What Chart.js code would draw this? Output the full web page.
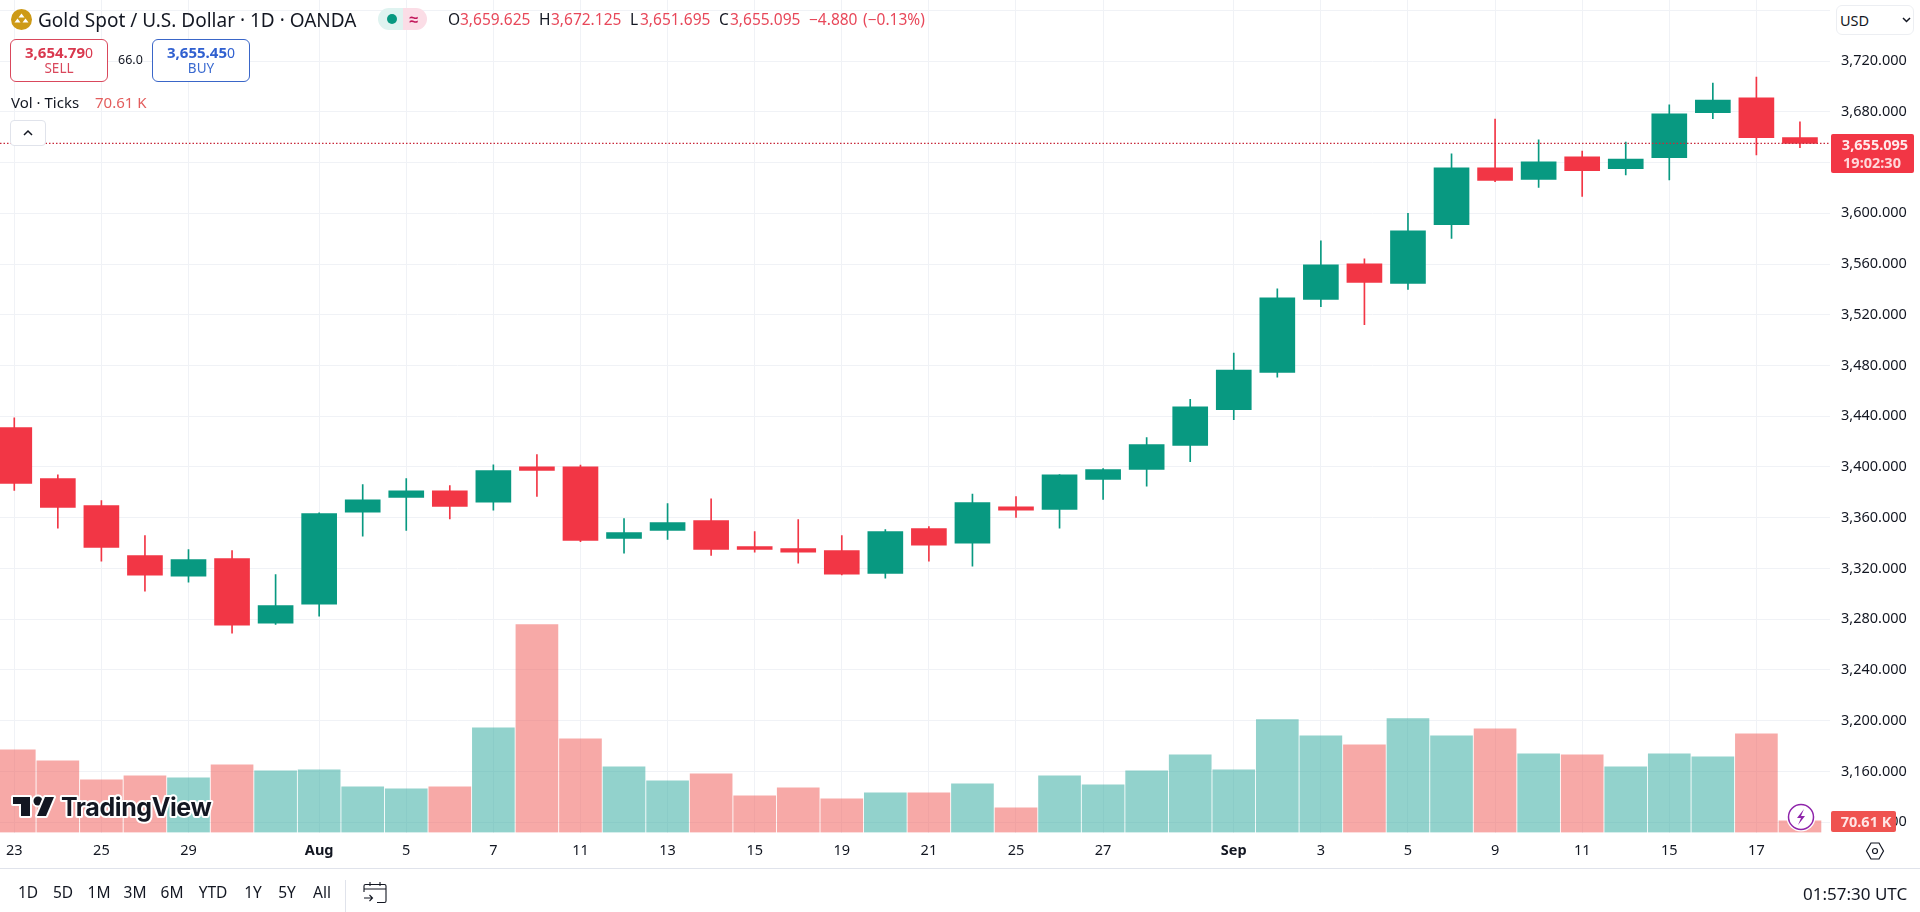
<!DOCTYPE html>
<html>
<head>
<meta charset="utf-8">
<script src="https://cdn.jsdelivr.net/npm/chart.js@4"></script>
<style>
html,body{margin:0;padding:0;background:#fff;width:1920px;height:912px;overflow:hidden;font-family:"Noto Sans",sans-serif;color:#131722}
#wrap{position:relative;width:1920px;height:912px}
canvas{position:absolute;left:0;top:0}
.t{position:absolute;white-space:nowrap;transform:translateY(-50%);line-height:1}
.box{position:absolute;box-sizing:border-box;background:#fff}
.r{color:#e8485a}
.c{position:absolute;white-space:nowrap;transform:translate(-50%,-50%);line-height:1}
svg{position:absolute;overflow:visible}
</style>
</head>
<body>
<div id="wrap">
<canvas id="c" width="1920" height="912"></canvas>

<!-- legend header -->
<svg style="left:11px;top:9px" width="21" height="21" viewBox="0 0 21 21"><circle cx="10.5" cy="10.5" r="10.5" fill="#cd9a17"/><path d="M10.5 4.5l3 4h-6zM6.5 9.5l3 4h-6zM14.500 9.500l3 4h-6z" fill="#fff"/></svg>
<span class="t" id="title" style="left:38px;top:20px;font-size:19px">Gold Spot / U.S. Dollar · 1D · OANDA</span>
<div class="box" style="left:378px;top:8px;width:25px;height:22px;background:#dff3f0;border-radius:11px 0 0 11px"></div>
<div class="box" style="left:403px;top:8px;width:24px;height:22px;background:#fbdde6;border-radius:0 11px 11px 0"></div>
<div class="box" style="left:387px;top:14px;width:10px;height:10px;background:#089981;border-radius:50%"></div>
<span class="c" style="left:414px;top:19px;font-size:16px;font-weight:700;color:#c2185b">≈</span>
<span class="t ohlc" style="left:448px;top:20px">O</span><span class="t ohlc r" style="left:460px;top:20px">3,659.625</span>
<span class="t ohlc" style="left:539px;top:20px">H</span><span class="t ohlc r" style="left:551px;top:20px">3,672.125</span>
<span class="t ohlc" style="left:630px;top:20px">L</span><span class="t ohlc r" style="left:640px;top:20px">3,651.695</span>
<span class="t ohlc" style="left:719px;top:20px">C</span><span class="t ohlc r" style="left:730px;top:20px">3,655.095</span>
<span class="t ohlc r" style="left:809px;top:20px">−4.880</span><span class="t ohlc r" style="left:863px;top:20px">(−0.13%)</span>

<div class="box" style="left:10px;top:39px;width:98px;height:43px;border:1px solid #d9485c;border-radius:6px"></div>
<span class="c" style="left:59px;top:52px;font-size:15px;font-weight:700;color:#d9384e">3,654.79<span style="font-weight:400;font-size:14px">0</span></span>
<span class="c" style="left:59px;top:69px;font-size:13.500px;color:#d9485c">SELL</span>
<span class="t" style="left:118px;top:60px;font-size:12.500px">66.0</span>
<div class="box" style="left:152px;top:39px;width:98px;height:43px;border:1px solid #3a66c8;border-radius:6px"></div>
<span class="c" style="left:201px;top:52px;font-size:15px;font-weight:700;color:#3060d0">3,655.45<span style="font-weight:400;font-size:14px">0</span></span>
<span class="c" style="left:201px;top:69px;font-size:13.500px;color:#3a6ad0">BUY</span>

<span class="t" style="left:11px;top:102px;font-size:15px">Vol · Ticks</span>
<span class="t" style="left:95px;top:102px;font-size:15px;color:#e35d5d">70.61 K</span>
<div class="box" style="left:10px;top:120px;width:36px;height:26px;border:1px solid #e0e3eb;border-radius:4px"></div>
<svg style="left:22px;top:129px" width="12" height="8" viewBox="0 0 12 8"><path d="M2 6l4-4 4 4" fill="none" stroke="#131722" stroke-width="1.500"/></svg>

<!-- right axis furniture -->
<div class="box" style="left:1836px;top:5px;width:78px;height:30px;border:1px solid #eceef2;border-radius:6px"></div>
<span class="t" style="left:1840px;top:20px;font-size:14.500px">USD</span>
<svg style="left:1902px;top:17px" width="9" height="6" viewBox="0 0 9 6"><path d="M1 1l3.500 3.500L8 1" fill="none" stroke="#131722" stroke-width="1.500"/></svg>
<div class="box" style="left:1831px;top:134px;width:83px;height:39px;background:#f23645;border-radius:2px"></div>
<span class="c" style="left:1875px;top:144px;font-size:14.500px;font-weight:700;color:#ffe9ea">3,655.095</span>
<span class="c" style="left:1872px;top:162px;font-size:14.500px;font-weight:700;color:#ffd7da">19:02:30</span>
<div class="box" style="left:1831px;top:811px;width:65px;height:21px;background:#ef5350;border-radius:2px"></div>
<span class="c" style="left:1866px;top:821px;font-size:14.500px;font-weight:700;color:#ffe5e5">70.61 K</span>
<svg style="left:1866px;top:841px" width="18" height="20" viewBox="0 0 18 20"><path d="M5 2h8l4.500 8-4.500 8H5L.5 10z" fill="none" stroke="#131722" stroke-width="1.200"/><circle cx="9" cy="10" r="2.500" fill="none" stroke="#131722" stroke-width="1.200"/></svg>

<!-- lightning badge -->
<svg style="left:1786px;top:802px" width="30" height="30" viewBox="0 0 30 30"><circle cx="15" cy="15" r="14.500" fill="#fff"/><circle cx="15" cy="15" r="12.500" fill="#fff" stroke="#8e24aa" stroke-width="1.500"/><path d="M18 7l-7 9h4l-3 7 7-9h-4z" fill="#8e24aa"/></svg>

<!-- TradingView mark -->
<svg style="left:13px;top:795px" width="210" height="30" viewBox="0 0 210 30">
<g stroke="#fff" stroke-width="4" stroke-linejoin="round" paint-order="stroke" fill="#131722">
<path d="M17 2H0v7h8v12h9z"/><circle cx="25" cy="6" r="4.500"/><path d="M41 2l-8 19h-9l8-19z"/>
<text x="48" y="21" style="font-family:Inter,sans-serif;font-weight:700;font-size:25px;letter-spacing:-.4px">TradingView</text>
</g></svg>

<!-- bottom bar -->
<div class="box" style="left:0;top:868px;width:1920px;height:1px;background:#e0e3eb"></div>
<span class="c rng" style="left:28px;top:893px">1D</span>
<span class="c rng" style="left:63px;top:893px">5D</span>
<span class="c rng" style="left:99px;top:893px">1M</span>
<span class="c rng" style="left:135px;top:893px">3M</span>
<span class="c rng" style="left:172px;top:893px">6M</span>
<span class="c rng" style="left:213px;top:893px">YTD</span>
<span class="c rng" style="left:253px;top:893px">1Y</span>
<span class="c rng" style="left:287px;top:893px">5Y</span>
<span class="c rng" style="left:322px;top:893px">All</span>
<div class="box" style="left:345px;top:880px;width:1px;height:32px;background:#e0e3eb"></div>
<svg style="left:363px;top:881px" width="24" height="23" viewBox="0 0 24 23"><path d="M1 11V5a1.500 1.500 0 0 1 1.500-1.500h19A1.500 1.500 0 0 1 23 5v15a1.500 1.500 0 0 1-1.500 1.500H14M1 8h22M7 1v4M17 1v4M1 17h8M6.500 14l3 3-3 3" fill="none" stroke="#131722" stroke-width="1.100"/></svg>
<span class="t" id="clock" style="left:1803px;top:893px;font-size:17px">01:57:30 UTC</span>
</div>

<script>
// one entry per daily candle, Jul 23 .. Sep 18
const opens  = [3431,3390.8,3369.5,3330.2,3313.9,3327.8,3276.9,3291.8,3364.3,3376.1,3381.3,3372.2,3400.2,3400.2,3343.8,3350.1,3357.7,3337.2,3335.7,3334.1,3316.2,3351.4,3339.9,3368.7,3366.6,3390.3,3398.1,3417,3445.1,3474.6,3532.1,3560.1,3544.7,3591.1,3635.8,3626.6,3644.4,3635.2,3643.9,3679.3,3690.9,3659.625];
const highs  = [3438.8,3393.9,3373.5,3345.9,3334.9,3334.1,3315.2,3363.8,3386.1,3390.8,3385.3,3401.8,3409.7,3401.5,3359.3,3371.1,3375,3349,3358.5,3345.9,3350.6,3353,3378.7,3376.6,3394,3398.7,3423.1,3453.4,3489.8,3540.5,3578.3,3564.1,3600,3646.8,3674.3,3657.8,3649.1,3656.2,3685.4,3702.7,3707.4,3672.125];
const lows   = [3381.6,3351.7,3325.7,3302.1,3309.2,3269,3276,3282.4,3345.4,3350.1,3359,3365.9,3376.9,3341.2,3332,3343,3330.4,3332.8,3324.1,3315,3312.3,3325.7,3321.8,3360.3,3351.7,3374.5,3384.8,3404.2,3437.3,3470.8,3526.3,3512.1,3539.9,3580.1,3625,3620.3,3613.2,3630.2,3626.3,3674.6,3646,3651.695];
const closes = [3387.1,3368.2,3336.7,3314.7,3327,3275.3,3290.8,3363.2,3374.2,3381.3,3369,3397.1,3397.4,3342.2,3348.3,3356.1,3335.1,3335.1,3332.8,3315.5,3349,3338.3,3371.9,3365.9,3393.9,3397.9,3417.6,3447.5,3476.3,3533.4,3559.4,3545.5,3586.1,3635.8,3625.8,3640.5,3633.6,3642.8,3678.3,3689.3,3659.6,3655.095];
const volumesK = [500,434,319,343,331,409,373,379,276,264,276,633,1257,567,397,313,355,222,270,204,240,240,294,149,343,288,373,470,379,682,585,530,688,585,627,476,470,397,476,458,597,70.61];
const xTickIndex  = [0,2,4,7,9,11,13,15,17,19,21,23,25,28,30,32,34,36,38,40];
const xTickLabels = ['23','25','29','Aug','5','7','11','13','15','19','21','25','27','Sep','3','5','9','11','15','17'];
const yTicks = [3120,3160,3200,3240,3280,3320,3360,3400,3440,3480,3520,3560,3600,3640,3680,3720,3760];
const lastPrice = 3655.095;

const GREEN='#089981', RED='#F23645';
const VOL_GREEN='rgba(38,166,154,0.5)', VOL_RED='rgba(239,83,80,0.5)';
const FONT='"Noto Sans",sans-serif';
const XMIN=-0.328, XMAX=41.69;

document.querySelectorAll('.ohlc').forEach(e=>e.style.fontSize='15.5px');
document.querySelectorAll('.rng').forEach(e=>e.style.fontSize='15.5px');

const idx = opens.map((_,i)=>i);
const isUp = i => closes[i] >= opens[i];
const barColors = idx.map(i=>isUp(i)?GREEN:RED);

new Chart(document.getElementById('c'),{
  data:{datasets:[
    {type:'line',order:1,yAxisID:'y',xAxisID:'x',data:[{x:XMIN,y:lastPrice},{x:XMAX,y:lastPrice}],
     borderColor:'#c8283a',borderWidth:1.2,borderDash:[1.5,2],pointRadius:0},
    {type:'bar',order:2,yAxisID:'y',xAxisID:'x',grouped:false,data:idx.map(i=>({x:i,y:[opens[i],closes[i]]})),
     backgroundColor:barColors,barThickness:35,borderWidth:0,borderSkipped:false},
    {type:'bar',order:3,yAxisID:'y',xAxisID:'x',grouped:false,data:idx.map(i=>({x:i,y:[lows[i],highs[i]]})),
     backgroundColor:barColors,barThickness:1,borderWidth:0,borderSkipped:false},
    {type:'bar',order:4,yAxisID:'v',xAxisID:'x',grouped:false,data:idx.map(i=>({x:i,y:volumesK[i]})),
     backgroundColor:idx.map(i=>isUp(i)?VOL_GREEN:VOL_RED),barThickness:42,borderWidth:0}
  ]},
  options:{
    responsive:false,animation:false,devicePixelRatio:1,
    layout:{padding:0},
    plugins:{legend:{display:false},tooltip:{enabled:false}},
    scales:{
      x:{type:'linear',min:XMIN,max:XMAX,offset:false,
         afterBuildTicks:s=>{s.ticks=xTickIndex.map(v=>({value:v}));},
         afterFit:s=>{s.height=79.5;s.paddingLeft=0;s.paddingRight=0;},
         grid:{color:'#f0f2f6',drawTicks:false,lineWidth:1,offset:false},border:{display:false},
         ticks:{autoSkip:false,maxRotation:0,padding:10,color:'#131722',includeBounds:false,
           font:c=>{const l=c.tick?xTickLabels[xTickIndex.indexOf(c.tick.value)]:'';return {family:FONT,size:14.5,weight:(l==='Aug'||l==='Sep')?'700':'400'};},
           callback:v=>xTickLabels[xTickIndex.indexOf(v)]}},
      y:{type:'linear',position:'right',min:3111.9,max:3768.1,
         afterBuildTicks:s=>{s.ticks=yTicks.map(v=>({value:v}));},
         afterFit:s=>{s.width=90;s.paddingTop=0;s.paddingBottom=0;},
         grid:{color:'#f0f2f6',drawTicks:false},border:{display:false},
         ticks:{padding:11,color:'#131722',font:{family:FONT,size:14.5},
           callback:v=>v>3720?'':v.toLocaleString('en-US',{minimumFractionDigits:3,maximumFractionDigits:3})}},
      v:{type:'linear',display:false,position:'left',min:0,max:5033,
         afterFit:s=>{s.width=0;}}
    }
  }
});
</script>
</body>
</html>
